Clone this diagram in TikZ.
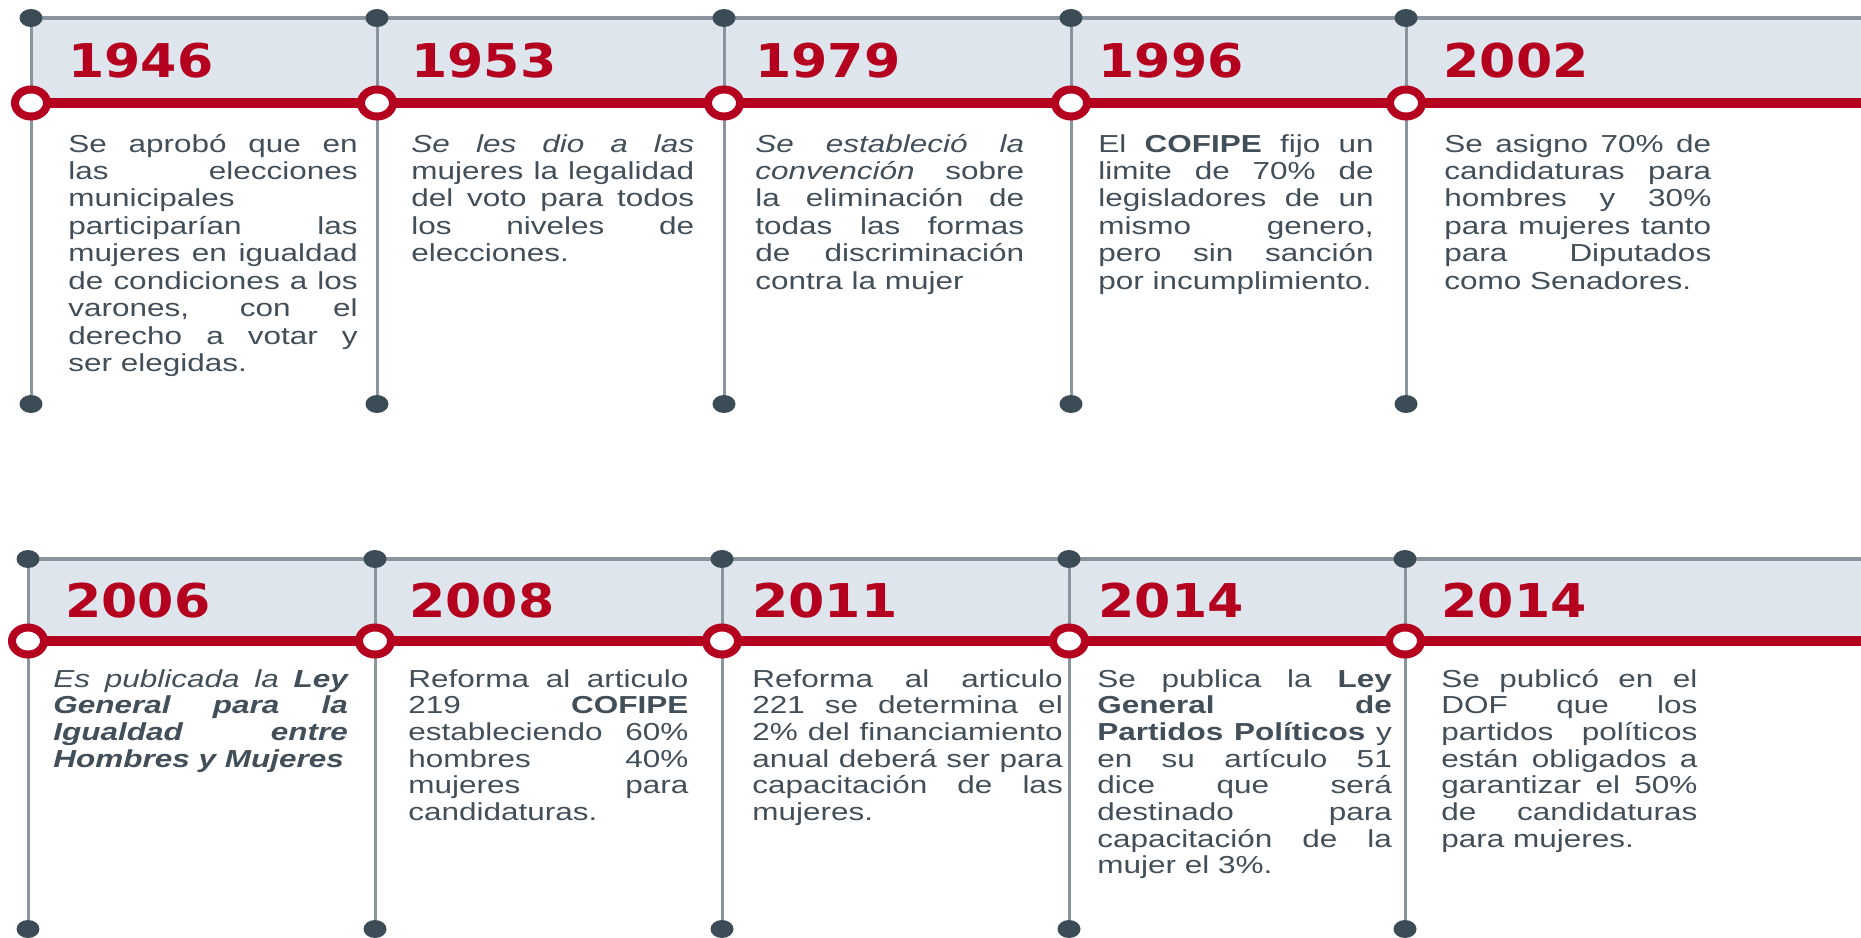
\documentclass[tikz,border=0pt]{standalone}
\usepackage{fontspec}
\setmainfont{Liberation Sans}
\newfontfamily\yearfont{DejaVu Sans}
\usepackage{tikz}
\usetikzlibrary{shapes.geometric, backgrounds}

\definecolor{tlred}{RGB}{180,0,30}
\definecolor{bandfill}{RGB}{222,229,237}
\definecolor{linegray}{RGB}{138,148,158}
\definecolor{dotgray}{RGB}{60,76,86}
\definecolor{txtgray}{RGB}{66,78,88}

\tolerance=10000
\hbadness=10000
\hyphenpenalty=10000

\begin{document}
\begin{tikzpicture}[x=0.02cm, y=-0.02cm,
        year/.style={anchor=base west, inner sep=0, text=tlred, xscale=1.12, font=\yearfont\bfseries\fontsize{26.5}{30}\selectfont},
        desc/.style={anchor=base west, inner sep=0, text=txtgray, xscale=1.28, align=justify, font=\fontsize{14}{15.65}\selectfont},
        lowdesc/.style={desc, font=\fontsize{14}{15.2}\selectfont},
        dot/.style={ellipse, fill=dotgray, minimum width=0.46cm, minimum height=0.36cm, inner sep=0},
        ring/.style={ellipse, draw=tlred, line width=0.16cm, fill=white, minimum width=0.64cm, minimum height=0.54cm, inner sep=0},
        vline/.style={draw=linegray, line width=0.06cm},
        hline/.style={draw=linegray, line width=0.07cm},
        redline/.style={draw=tlred, line width=0.2cm},
        band/.style={fill=bandfill}
    ]
    \useasboundingbox (0,0) rectangle (1861,937);

    % puntos y marcadores
    \foreach \x [count=\i] in {31,377,724,1071,1406} {
        \node[dot] (ta\i) at (\x,18) {};
        \node[dot] (ba\i) at (\x,404) {};
        \node[ring] (ma\i) at (\x,103) {};
    }
    \foreach \x [count=\i] in {28,375,722,1069,1405} {
        \node[dot] (tb\i) at (\x,559) {};
        \node[dot] (bb\i) at (\x,929) {};
        \node[ring] (mb\i) at (\x,641) {};
    }
    \coordinate (ea) at (1861,103);
    \coordinate (eb) at (1861,641);

    % franjas y lineas
    \begin{scope}[on background layer]
        \fill[band] (ta1.center) rectangle (ea);
        \fill[band] (tb1.center) rectangle (eb);
        \draw[hline] (ta1.center) -- (ta1.center -| ea);
        \draw[hline] (tb1.center) -- (tb1.center -| eb);
        \foreach \i in {1,...,5} {
            \draw[vline] (ta\i) -- (ba\i);
            \draw[vline] (tb\i) -- (bb\i);
        }
        \draw[redline] (ma1.center) -- (ea);
        \draw[redline] (mb1.center) -- (eb);
    \end{scope}

    % anios
    \node[year] (y1946) at (68,77) {1946};
    \node[year] (y1953) at (411,77) {1953};
    \node[year] (y1979) at (755,77) {1979};
    \node[year] (y1996) at (1098,77) {1996};
    \node[year] (y2002) at (1443,77) {2002};
    \node[year] (y2006) at (65,617) {2006};
    \node[year] (y2008) at (409,617) {2008};
    \node[year] (y2011) at (752,617) {2011};
    \node[year] (y2014a) at (1098,617) {2014};
    \node[year] (y2014b) at (1441,617) {2014};

    % textos
    \node[desc, text width=4.52cm] (d1946) at (68,152) {Se aprobó que en\linebreak las elecciones\linebreak municipales\linebreak participarían las\linebreak mujeres en igualdad\linebreak de condiciones a los\linebreak varones, con el\linebreak derecho a votar y\linebreak ser elegidas.};
    \node[desc, text width=4.42cm] (d1953) at (411,152) {\textit{Se les dio a las}\linebreak mujeres la legalidad\linebreak del voto para todos\linebreak los niveles de\linebreak elecciones.};
    \node[desc, text width=4.2cm] (d1979) at (755,152) {\textit{Se estableció la\linebreak convención} sobre\linebreak la eliminación de\linebreak todas las formas\linebreak de discriminación\linebreak contra la mujer};
    \node[desc, text width=4.3cm] (d1996) at (1098,152) {El \textbf{COFIPE} fijo un\linebreak limite de 70\% de\linebreak legisladores de un\linebreak mismo genero,\linebreak pero sin sanción\linebreak por incumplimiento.};
    \node[desc, text width=4.17cm] (d2002) at (1444,152) {Se asigno 70\% de\linebreak candidaturas para\linebreak hombres y 30\%\linebreak para mujeres tanto\linebreak para Diputados\linebreak como Senadores.};
    \node[lowdesc, text width=4.6cm] (d2006) at (53,687) {\textit{Es publicada la \textbf{Ley\linebreak General para la\linebreak Igualdad entre\linebreak Hombres y Mujeres}}};
    \node[lowdesc, text width=4.375cm] (d2008) at (408,687) {Reforma al articulo\linebreak 219 \textbf{COFIPE}\linebreak estableciendo 60\%\linebreak hombres 40\%\linebreak mujeres para\linebreak candidaturas.};
    \node[lowdesc, text width=4.85cm] (d2011) at (752,687) {Reforma al articulo\linebreak 221 se determina el\linebreak 2\% del financiamiento\linebreak anual deberá ser para\linebreak capacitación de las\linebreak mujeres.};
    \node[lowdesc, text width=4.6cm] (d2014a) at (1097,687) {Se publica la \textbf{Ley\linebreak General de\linebreak Partidos Políticos} y\linebreak en su artículo 51\linebreak dice que será\linebreak destinado para\linebreak capacitación de la\linebreak mujer el 3\%.};
    \node[lowdesc, text width=4.0cm] (d2014b) at (1441,687) {Se publicó en el\linebreak DOF que los\linebreak partidos políticos\linebreak están obligados a\linebreak garantizar el 50\%\linebreak de candidaturas\linebreak para mujeres.};

\end{tikzpicture}
\end{document}
